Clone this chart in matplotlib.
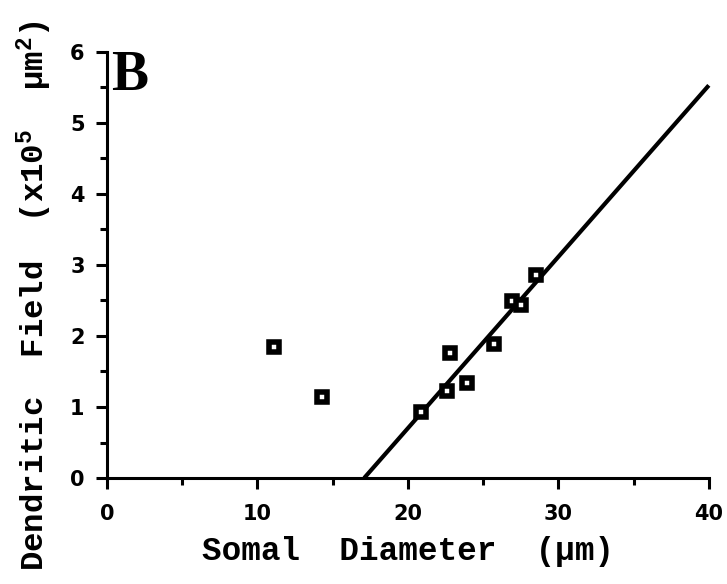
import numpy as np
import matplotlib
matplotlib.use('Agg')
import matplotlib.pyplot as plt
from matplotlib.ticker import MultipleLocator

plt.rcParams['font.family'] = 'DejaVu Sans'
plt.rcParams['font.weight'] = 'bold'
plt.rcParams['xtick.labelsize'] = 15
plt.rcParams['ytick.labelsize'] = 15
plt.rcParams['mathtext.fontset'] = 'custom'  # superscripts in the same mono font
plt.rcParams['mathtext.rm'] = 'Liberation Mono:bold'
plt.rcParams['mathtext.it'] = 'Liberation Mono:bold'
plt.rcParams['mathtext.bf'] = 'Liberation Mono:bold'

# somal diameter (um) vs dendritic field (x10^5 um^2)
soma_diam = [11.1, 14.3, 20.9, 22.6, 22.8, 23.9, 25.7, 26.9, 27.5, 28.5]
dend_field = [1.85, 1.14, 0.93, 1.23, 1.76, 1.34, 1.89, 2.49, 2.43, 2.86]

# regression line end points
fit_x = [17.1, 40]
fit_y = [0.0, 5.53]

xticks = [0, 10, 20, 30, 40]
yticks = [0, 1, 2, 3, 4, 5, 6]

fig = plt.figure(figsize=(7.27, 5.84), dpi=100)
ax = fig.add_axes([0.147, 0.1815, 0.828, 0.7295])

ax.plot(fit_x, fit_y, color='black', lw=3, solid_capstyle='butt', clip_on=False)
ax.plot(soma_diam, dend_field, 's', ms=7, mfc='white', mec='black', mew=4,
        clip_on=False, zorder=3)

ax.set_xlim(0, 40)
ax.set_ylim(0, 6)
ax.set_xticks(xticks)
ax.set_yticks(yticks)
ax.xaxis.set_minor_locator(MultipleLocator(5))
ax.yaxis.set_minor_locator(MultipleLocator(0.5))

for s in ['top', 'right']:
    ax.spines[s].set_visible(False)
for s in ['left', 'bottom']:
    ax.spines[s].set_linewidth(2.2)

ax.tick_params(which='major', length=8, width=2.2, direction='out')
ax.tick_params(axis='x', which='major', pad=11)
ax.tick_params(axis='y', which='major', pad=8)
ax.tick_params(which='minor', length=5, width=2.2, direction='out')

ax.set_xlabel('Somal  Diameter  (\u00b5m)', fontfamily='Liberation Mono',
              fontweight='bold', fontsize=23.5, labelpad=8)

fig.text(0.048, 0.494, 'Dendritic  Field  (x10$^5$  \u00b5m$^2$)', rotation=90,
         ha='center', va='center', fontfamily='Liberation Mono',
         fontweight='bold', fontsize=23.3)

fig.text(0.153, 0.846, 'B', ha='left', va='baseline', fontfamily='Liberation Serif',
         fontweight='bold', fontsize=40)

fig.savefig('out.png', dpi=100)
